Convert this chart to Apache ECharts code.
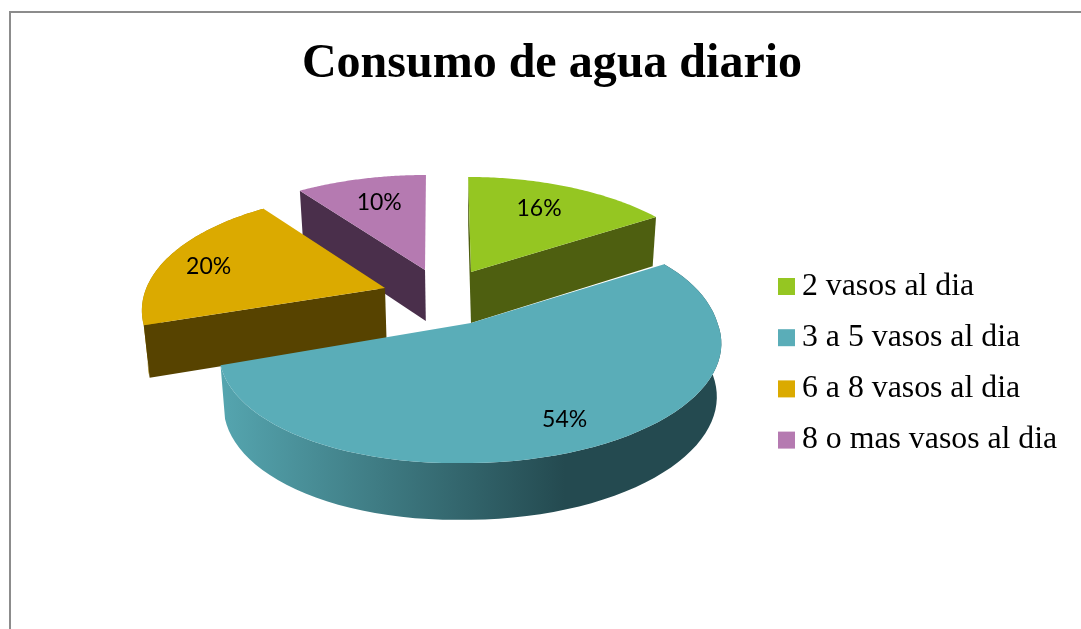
<!DOCTYPE html>
<html>
<head>
<meta charset="utf-8">
<style>html,body{margin:0;padding:0;background:#fff}#c{width:1081px;height:629px}</style>
<script src="https://cdn.jsdelivr.net/npm/echarts@6/dist/echarts.min.js"></script>
</head>
<body>
<div id="c"></div>
<script>
const categories = ['2 vasos al dia', '3 a 5 vasos al dia', '6 a 8 vasos al dia', '8 o mas vasos al dia'];
const values = [16, 54, 20, 10];
const titleText = 'Consumo de agua diario';

// styling and layout of the slices
const topColors = ['#95c622', '#5aadb8', '#dbaa00', '#b57ab1'];
const wallColors = ['#4e5f10', '#244a50', '#574300', '#4a2f4b'];
const rimColors = ['#6f8a18', '#244a50', '#a98400', '#7f5580'];
const apexes = [[471, 272], [471, 323], [385, 288], [425, 270]];
const scalesX = [0.995, 1.006, 0.974, 1.01];
const shearsXFar = [0.03, -0.08, 0, -0.01];
const shearsXNear = [0.03, -0.035, 0, -0.01];
const shearsY = [0, -0.02, 0, 0];
const labelRadii = [0.66, 0.84, 0.8, 0.7];
const labelNudges = [[0, -4], [-6, -4], [-3, 5], [1, -1]];
const layers = [3, 4, 2, 1];
const showRim = [false, true, true, false];
const showStartFace = [true, false, true, true];
const showEndFace = [true, false, false, false];

// perspective projection of the disc
const PX = 245, PY = 113.2, PERSP = 0.1915;
const total = values.reduce((a, b) => a + b, 0);
const starts = values.map((_, i) => values.slice(0, i).reduce((a, b) => a + b, 0) / total * 2 * Math.PI);

function project(i, r, th) {
  const u = r * Math.sin(th), v = r * Math.cos(th), w = 1 + PERSP * v;
  const x = PX * scalesX[i] * u / w, y = -PY * v / w;
  const dx = (y < 0 ? shearsXFar[i] : shearsXNear[i]) * y;
  const weight = x < 0 ? 1 : Math.min(1, Math.max(0, -y / 55));
  return [apexes[i][0] + x + dx, apexes[i][1] + y + shearsY[i] * x * weight];
}
function drop(p) {
  return [p[0] + (470 - p[0]) * 0.018, p[1] + 51 + (p[1] - 272) * 0.03];
}
function arc(i, a, b) {
  const n = 72, pts = [];
  for (let k = 0; k <= n; k++) pts.push(project(i, 1, a + (b - a) * k / n));
  return pts;
}

function sliceRenderer(i) {
  return function (params, api) {
    const val = api.value(0);
    const a = starts[i], b = a + val / total * 2 * Math.PI;
    const apex = apexes[i];
    const rim = arc(i, a, b);
    const first = rim[0], last = rim[rim.length - 1];
    const wallFill = i === 1
      ? { type: 'linear', global: true, x: 222, y: 0, x2: 565, y2: 0,
          colorStops: [{ offset: 0, color: '#55a5af' }, { offset: 0.45, color: '#3f7c84' }, { offset: 1, color: wallColors[1] }] }
      : rimColors[i];
    const mid = (a + b) / 2;
    const lp = project(i, labelRadii[i], mid);
    const children = [];
    if (showRim[i]) children.push({ type: 'polygon', z2: 1, shape: { points: rim.concat(rim.map(drop).reverse()) }, style: { fill: wallFill } });
    if (showStartFace[i]) children.push({ type: 'polygon', z2: 2, shape: { points: [apex, first, drop(first), drop(apex)] }, style: { fill: wallColors[i] } });
    if (showEndFace[i]) children.push({ type: 'polygon', z2: 2, shape: { points: [apex, last, drop(last), drop(apex)] }, style: { fill: wallColors[i] } });
    children.push(
      { type: 'polygon', z2: 3, shape: { points: [apex].concat(rim) }, style: { fill: topColors[i] } },
      { type: 'text', z2: 4, style: { text: val + '%', x: lp[0] + labelNudges[i][0], y: lp[1] + labelNudges[i][1], fill: '#000',
          font: '23px Lato', align: 'center', verticalAlign: 'middle' } }
    );
    return { type: 'group', children };
  };
}

const chart = echarts.init(document.getElementById('c'), null, { renderer: 'canvas' });
chart.setOption({
  animation: false,
  backgroundColor: '#fff',
  title: {
    text: titleText, left: 547, top: 36, textAlign: 'center',
    textStyle: { fontFamily: 'Liberation Serif', fontWeight: 'bold', fontSize: 48, color: '#000' }
  },
  legend: {
    orient: 'vertical', left: 773, top: 262.5, itemWidth: 17, itemHeight: 17, itemGap: 13.2,
    selectedMode: false, icon: 'rect', data: categories,
    textStyle: { fontFamily: 'Liberation Serif', fontSize: 31.8, color: '#000', lineHeight: 34, padding: [4, 0, 0, 2] }
  },
  graphic: [
    { type: 'line', shape: { x1: 10, y1: 12, x2: 1081, y2: 12 }, style: { stroke: '#8c8c8c', lineWidth: 2 } },
    { type: 'line', shape: { x1: 10, y1: 11, x2: 10, y2: 629 }, style: { stroke: '#8c8c8c', lineWidth: 2 } }
  ],
  series: categories.map((name, i) => ({
    type: 'custom', name, coordinateSystem: 'none', z: layers[i],
    itemStyle: { color: topColors[i] },
    data: [[values[i]]],
    renderItem: sliceRenderer(i),
    silent: true
  }))
});
</script>
</body>
</html>
